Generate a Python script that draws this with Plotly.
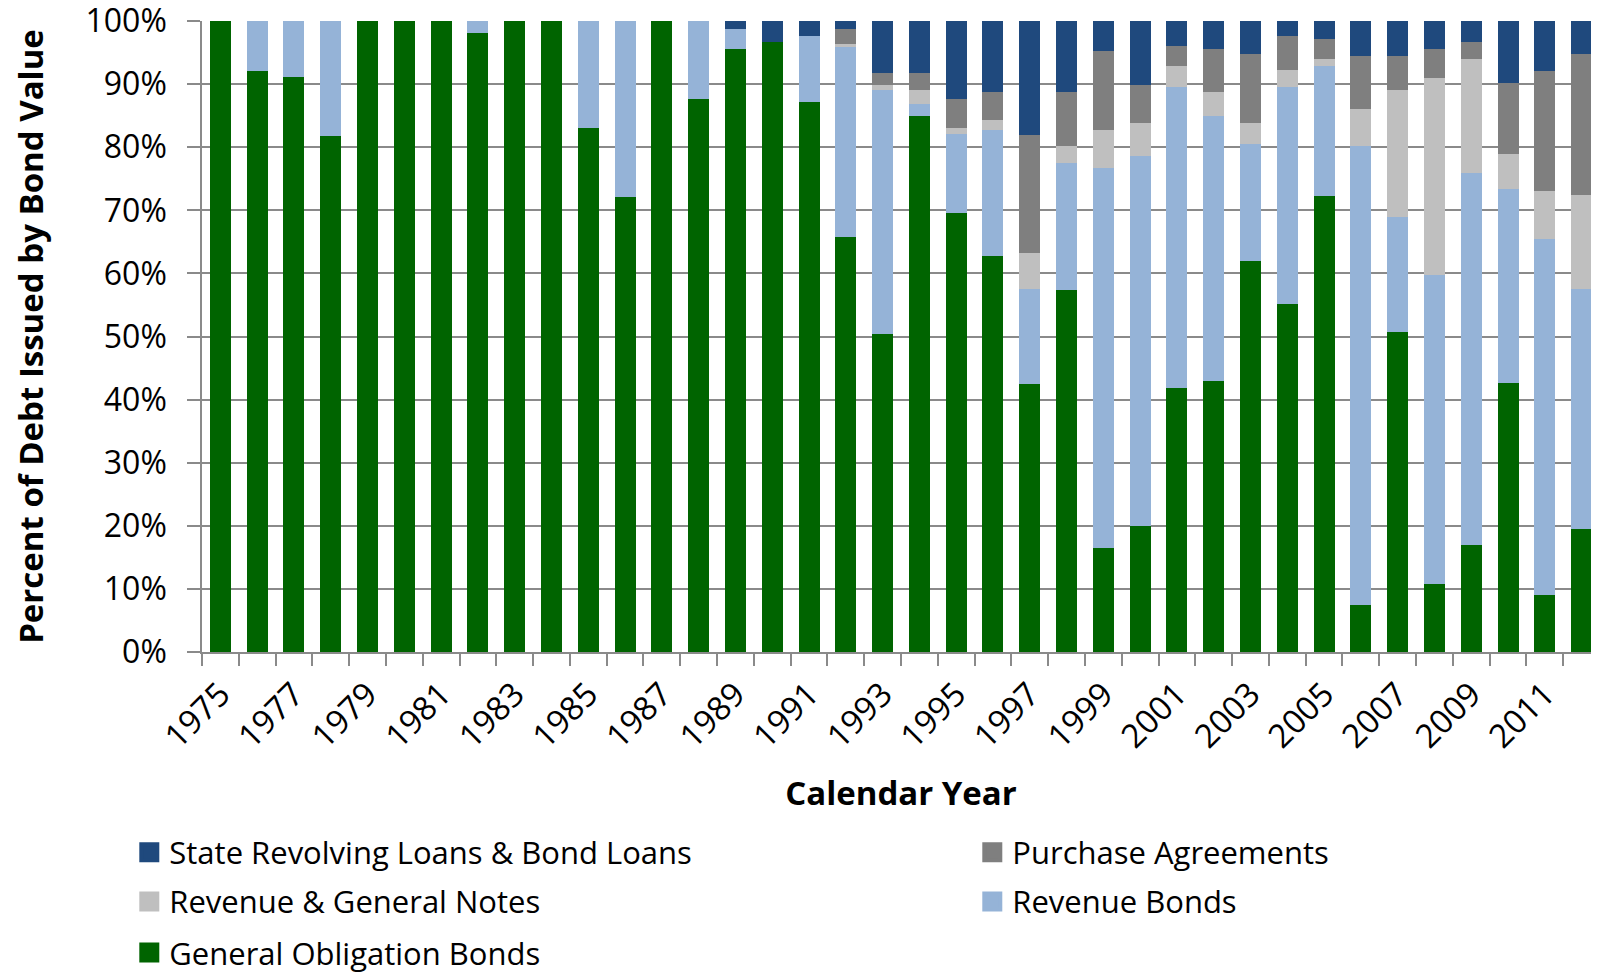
import plotly.graph_objects as go

years = list(range(1975, 2013))

general_obligation = [100, 92.0, 91.2, 81.7, 100, 100, 100, 98.1, 100, 100,
                      83.0, 72.1, 100, 87.6, 95.5, 96.7, 87.1, 65.7, 50.4, 84.9,
                      69.5, 62.8, 42.5, 57.3, 16.5, 20.0, 41.9, 43.0, 61.9, 55.1,
                      72.3, 7.5, 50.7, 10.7, 17.0, 42.7, 9.1, 19.5]
revenue_bonds = [0, 8.0, 8.8, 18.3, 0, 0, 0, 1.9, 0, 0,
                 17.0, 27.9, 0, 12.4, 3.3, 0, 10.6, 30.2, 38.6, 1.9,
                 12.6, 19.9, 15.0, 20.2, 60.2, 58.6, 47.6, 41.9, 18.6, 34.4,
                 20.5, 72.7, 18.3, 49.0, 58.9, 30.7, 56.4, 38.0]
revenue_general_notes = [0, 0, 0, 0, 0, 0, 0, 0, 0, 0,
                         0, 0, 0, 0, 0, 0, 0, 0.5, 0.8, 2.2,
                         0.9, 1.6, 5.7, 2.7, 6.0, 5.2, 3.3, 3.8, 3.3, 2.8,
                         1.1, 5.8, 20.0, 31.2, 18.0, 5.5, 7.6, 15.0]
purchase_agreements = [0, 0, 0, 0, 0, 0, 0, 0, 0, 0,
                       0, 0, 0, 0, 0, 0, 0, 2.4, 1.9, 2.7,
                       4.6, 4.4, 18.7, 8.5, 12.6, 6.0, 3.3, 6.8, 10.9, 5.4,
                       3.3, 8.5, 5.5, 4.6, 2.8, 11.2, 18.9, 22.2]
state_revolving = [0, 0, 0, 0, 0, 0, 0, 0, 0, 0,
                   0, 0, 0, 0, 1.2, 3.3, 2.3, 1.2, 8.3, 8.3,
                   12.4, 11.3, 18.1, 11.3, 4.7, 10.2, 3.9, 4.5, 5.3, 2.3,
                   2.8, 5.5, 5.5, 4.5, 3.3, 9.9, 8.0, 5.3]

tick_years = list(range(1975, 2012, 2))
tick_labels = [str(y) for y in tick_years]
y_ticks = list(range(0, 101, 10))
y_labels = [f"{v}%" for v in y_ticks]

series = [
    ("General Obligation Bonds", general_obligation, "#006400"),
    ("Revenue Bonds", revenue_bonds, "#95B3D7"),
    ("Revenue & General Notes", revenue_general_notes, "#BFBFBF"),
    ("Purchase Agreements", purchase_agreements, "#7F7F7F"),
    ("State Revolving Loans & Bond Loans", state_revolving, "#1F497D"),
]

FONT = "Open Sans"
GRID = "#8A8A8A"

fig = go.Figure()
for name, vals, col in series:
    fig.add_trace(go.Bar(x=years, y=vals, name=name, marker_color=col,
                         marker_line_width=0, showlegend=False))

# legend entries (one legend per cell so the layout matches a 2-column grid)
legend_cells = {
    "State Revolving Loans & Bond Loans": ("legend", -0.052, -0.275),
    "Purchase Agreements": ("legend2", 0.551, -0.275),
    "Revenue & General Notes": ("legend3", -0.052, -0.353),
    "Revenue Bonds": ("legend4", 0.551, -0.353),
    "General Obligation Bonds": ("legend5", -0.052, -0.434),
}
colors = {n: c for n, _, c in series}
layout_legends = {}
for name, (lg, lx, ly) in legend_cells.items():
    fig.add_trace(go.Scatter(x=[None], y=[None], mode="markers", name=name,
                             marker=dict(symbol="square", size=16, color=colors[name],
                                         line=dict(width=4, color=colors[name])),
                             legend=lg, showlegend=True, hoverinfo="skip"))
    layout_legends[lg] = dict(x=lx, y=ly, xanchor="left", yanchor="top",
                              orientation="h", bgcolor="rgba(0,0,0,0)",
                              font=dict(family=FONT, size=31, color="#000000"))

fig.update_layout(
    barmode="stack",
    bargap=0.43,
    width=1599, height=972,
    margin=dict(l=194, r=7, t=13, b=328, autoexpand=False),
    paper_bgcolor="white", plot_bgcolor="white",
    font=dict(family=FONT, color="#000000"),
    **layout_legends,
)

fig.update_xaxes(
    range=[1974.5, 2012.5],
    tickmode="array", tickvals=tick_years, ticktext=tick_labels,
    tickangle=-45, tickfont=dict(family=FONT, size=33),
    ticks="", showgrid=False, zeroline=False,
    showline=True, linecolor=GRID, linewidth=1.5,
    minor=dict(tick0=1974.5, dtick=1, ticks="outside", ticklen=12,
               tickcolor=GRID, tickwidth=1.5, showgrid=False),
    ticklabelstandoff=8,
    ticklabeloverflow="allow",
    title=dict(text="<b>Calendar Year</b>", font=dict(family=FONT, size=33), standoff=26),
    automargin=False,
)
fig.update_yaxes(
    range=[0, 100],
    tickmode="array", tickvals=y_ticks, ticktext=y_labels,
    tickfont=dict(family=FONT, size=32),
    ticks="outside", ticklen=13, tickcolor=GRID, tickwidth=1.5,
    showgrid=True, gridcolor=GRID, gridwidth=1.5,
    zeroline=False, showline=True, linecolor=GRID, linewidth=1.5,
    ticklabelstandoff=14,
    ticklabeloverflow="allow",
    title=dict(text="<b>Percent of Debt Issued by Bond Value</b>",
               font=dict(family=FONT, size=33), standoff=49),
    automargin=False,
)

fig.write_html("out.html")
